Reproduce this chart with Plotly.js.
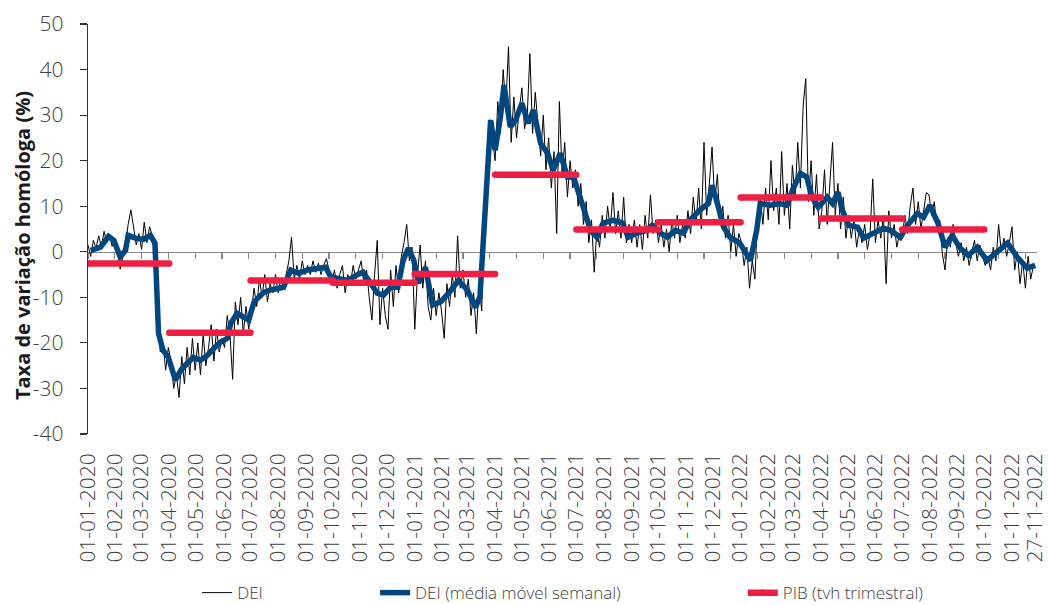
<!DOCTYPE html>
<html><head><meta charset="utf-8">
<script src="https://cdn.plot.ly/plotly-3.0.1.min.js"></script>
<style>html,body{margin:0;padding:0;background:#fff;} #chart{width:1048px;height:605px;}</style>
</head><body><div id="chart"></div>
<script>
// ---- tick labels ----
const tickLabels = ['01-01-2020','01-02-2020','01-03-2020','01-04-2020','01-05-2020','01-06-2020','01-07-2020','01-08-2020','01-09-2020','01-10-2020','01-11-2020','01-12-2020',
'01-01-2021','01-02-2021','01-03-2021','01-04-2021','01-05-2021','01-06-2021','01-07-2021','01-08-2021','01-09-2021','01-10-2021','01-11-2021','01-12-2021',
'01-01-2022','01-02-2022','01-03-2022','01-04-2022','01-05-2022','01-06-2022','01-07-2022','01-08-2022','01-09-2022','01-10-2022','01-11-2022','27-11-2022'];
const yTickValues = [50, 40, 30, 20, 10, 0, -10, -20, -30, -40];
const yTickLabels = ['50', '40', '30', '20', '10', '0', '-10', '-20', '-30', '-40'];
const yTitle = 'Taxa de variação homóloga (%)';

const seriesNames = ['DEI','DEI (média móvel semanal)','PIB (tvh trimestral)'];

// ---- DEI (daily indicator, read every 3 days) ----
const deiStart = '2020-01-01';
const deiStepDays = 3;
const deiValues = [
1.5,-1.0,2.5,0.8,3.5,1.0,4.5,2.0,3.8,1.2,2.5,
0.5,-3.8,-1.0,1.5,6.0,9.2,5.5,1.5,4.0,
0.5,6.5,2.0,5.5,3.5,-2.0,-14,-22,-20,-26,-21,
-24,-30,-27,-32,-23,-29,-21,-27,-19,-26,
-20,-27,-18,-25,-21,-16,-24,-17,-22,-19,
-21,-14,-18,-28,-11,-16,-10,-18,-12,-17,
-13,-8,-12,-6,-10,-5,-11,-7,-9,-5,
-9,-6,-8,-5,-2,3.2,-6,-3,-6,-2,-5,
-3,-5,-2,-4.5,-2.5,-5,-3,-1.5,-4,-7,
-4,-8,-5,-3,-9,-5,-7,-3,-6,-4,
-2,-7,-4,-10,-15,-5,2.5,-16,-8,-14,
-17,-4,-12,-3,-9,-1,2,6,-2,1,
-17,-5,1.5,-8,-2,-12,-15,-8,-14,-9,
-13,-19,-7,-12,-5,-10,3.5,-8,-4,-10,
-6,-14,-9,-18,-7,-13,10,22,29,25,
20,33,26,40,32,45,24,34,25,31,
36,27,30,43.5,26,35,28,21,30,18,
25,14,22,4,33,17,24,12,20,14,
18,10,15,6,11,2,7,-4.5,5,1,8,
3,10,5,13,4,9,3,12,2,6,
2,7,1,6,0.5,8,3,12.5,4,7,
2,6,1,5,0,7,3,8,2,6,
3,9,4,12,6,14,5,24,8,15,
23,11,17,6,10,3,8,0,6,-1,4,
2,-3,1,-8,-2,-6,8,12,6,14,
7,20,9,14,6,22,8,15,5,19,
12,24,14,32,38,11,20,8,17,5,
9,18,6,14,24,8,15,5,12,3,
8,3,7,1,5,2,6,0.5,4,16,
2,7,3,8,-7,9,3,6,1,4,
3,8,4,10,14,6,11,5,9,13,
12.5,8,11,5,7,-0.5,-4,3,1,6,2,
-1,2,-2,1,-3,0,2.5,-2,1.5,-1,
-3,-1,-4,1,-2,6,0,3,-1,2,
5.5,-4,0,-7,-2,-8,-1,-6,-3
];

// ---- DEI weekly moving average ----
const maDates = ['2020-01-04','2020-01-15','2020-01-24','2020-01-30','2020-02-06','2020-02-12','2020-02-15','2020-02-23','2020-03-03','2020-03-11','2020-03-16','2020-03-18','2020-03-20','2020-03-25','2020-03-31','2020-04-08','2020-04-14','2020-04-21','2020-04-28','2020-05-06','2020-05-14','2020-05-21','2020-05-28','2020-06-05','2020-06-09','2020-06-16','2020-06-23','2020-06-29','2020-07-05','2020-07-16','2020-07-23','2020-07-31','2020-08-07','2020-08-15','2020-08-24','2020-09-03','2020-09-12','2020-09-23','2020-09-29','2020-10-07','2020-10-18','2020-10-27','2020-11-04','2020-11-12','2020-11-20','2020-11-27','2020-12-05','2020-12-13','2020-12-19','2020-12-25','2020-12-31',
'2021-01-05','2021-01-13','2021-01-21','2021-01-30','2021-02-08','2021-02-19','2021-03-01','2021-03-10','2021-03-15','2021-03-19','2021-03-23','2021-03-27','2021-04-01','2021-04-07','2021-04-11','2021-04-18','2021-04-24','2021-05-01','2021-05-08','2021-05-14','2021-05-22','2021-05-30','2021-06-05','2021-06-13','2021-06-21','2021-06-28','2021-07-02','2021-07-09','2021-07-17','2021-07-24','2021-07-31','2021-08-11','2021-08-22','2021-08-28','2021-09-07','2021-09-18','2021-09-24','2021-10-03','2021-10-11','2021-10-20','2021-10-29','2021-11-05','2021-11-16','2021-11-26','2021-11-30','2021-12-06','2021-12-13','2021-12-20','2021-12-31',
'2022-01-12','2022-01-19','2022-01-23','2022-02-03','2022-02-14','2022-02-22','2022-02-28','2022-03-09','2022-03-16','2022-03-22','2022-03-29','2022-04-08','2022-04-14','2022-04-20','2022-04-25','2022-05-02','2022-05-12','2022-05-19','2022-05-30','2022-06-10','2022-06-18','2022-06-29','2022-07-07','2022-07-18','2022-07-25','2022-08-01','2022-08-10','2022-08-18','2022-08-26','2022-09-04','2022-09-13','2022-09-23','2022-10-04','2022-10-13','2022-10-27','2022-11-07','2022-11-18','2022-11-27'];
const maValues = [0.3,1.0,3.4,2.5,-1.1,0.3,3.6,3.0,2.7,3.6,1.9,-6.9,-17.9,-21.6,-23.2,-28.2,-26,-24.5,-23.2,-23.8,-22.7,-21.2,-19.9,-19,-15.7,-13.5,-14.4,-15,-11,-8.9,-8.4,-8,-7.8,-4,-4.7,-4,-3.6,-3.4,-5.5,-5.8,-6.3,-5.2,-4.5,-6.7,-9.1,-9.5,-7.8,-7.8,-1.9,0.8,-1.9,
-6.9,-3.4,-11.7,-11,-9.1,-6.3,-8.4,-12.2,-9.9,4.7,17.9,28.9,22.3,29.6,36.6,27.4,28.9,32.6,28.2,31.1,23.8,21.6,17.9,21.6,16.4,16.4,13.9,9.1,4.7,3.2,6.3,6.9,6.3,3.2,4.1,4.7,5.8,4.1,3.2,4.7,4.1,6.9,9.1,10.6,14.6,10.6,5.4,3.2,1.9,
-1.9,4.7,10.6,10.2,10.6,10.2,13.5,17.2,16.4,12,9.8,12,10.6,13.1,9.1,5.8,5.4,3.0,4.1,5.2,4.7,3.2,5.8,8.4,7.6,10.2,6.3,1.0,3.6,0.8,-0.8,1.0,-1.9,-0.3,1.9,-1.2,-3.6,-3.0];

// ---- GDP quarterly y/y ----
const pibStart = ['2020-01-01','2020-04-01','2020-07-01','2020-10-01','2021-01-01','2021-04-01','2021-07-01','2021-10-01','2022-01-01','2022-04-01','2022-07-01'];
const pibEnd   = ['2020-04-01','2020-07-01','2020-10-01','2021-01-01','2021-04-01','2021-07-01','2021-10-01','2022-01-01','2022-04-01','2022-07-01','2022-10-01'];
const pibValues = [-2.6,-17.8,-6.3,-6.8,-4.9,16.9,4.9,6.5,11.9,7.3,4.9];

// ---- build ----
const DAY = 86400000;
const t0 = Date.parse(deiStart + 'T00:00:00Z');
const deiDates = deiValues.map((_, i) => new Date(t0 + i * deiStepDays * DAY).toISOString().slice(0, 10));
const pibX = [], pibY = [];
pibValues.forEach((v, i) => { pibX.push(pibStart[i], pibEnd[i], null); pibY.push(v, v, null); });
const tickVals = tickLabels.map(s => { const p = s.split('-'); return p[2] + '-' + p[1] + '-' + p[0]; });
const xRange = ['2020-01-01', '2022-11-29'];

const FONT = '"Open Sans", sans-serif';
const BLUE = '#00467f', RED = '#ee1f43';

const traces = [
  {x: xRange, y: [null, null], xaxis: 'x2', yaxis: 'y', mode: 'lines', showlegend: false, hoverinfo: 'skip'},
  {x: deiDates, y: deiValues, name: seriesNames[0], mode: 'lines', line: {color: '#000', width: 1}, legend: 'legend'},
  {x: maDates, y: maValues, name: seriesNames[1], mode: 'lines', line: {color: BLUE, width: 5.5}, legend: 'legend2'},
  {x: pibX, y: pibY, name: seriesNames[2], mode: 'lines+markers', connectgaps: false,
   line: {color: RED, width: 6.5}, marker: {color: RED, size: 6.5}, legend: 'legend3'}
];

const tickFont = {family: FONT, size: 21, color: '#404040', weight: 300};
const legFont = {family: FONT, size: 17, color: '#404040', weight: 300};
const legBase = {y: -0.388, yanchor: 'middle', xanchor: 'left', orientation: 'h', font: legFont, bgcolor: 'rgba(0,0,0,0)', borderwidth: 0};

const layout = {
  width: 1048, height: 605,
  margin: {l: 88, r: 11, t: 24, b: 171, pad: 0, autoexpand: false},
  paper_bgcolor: '#fff', plot_bgcolor: '#fff',
  showlegend: true,
  xaxis: {type: 'date', range: xRange, tickmode: 'array', tickvals: tickVals, ticktext: tickLabels,
          tickangle: -90, ticks: '', showline: false, showgrid: false, zeroline: false,
          tickfont: tickFont, ticklabelstandoff: 14, ticklabeloverflow: 'allow', automargin: false, fixedrange: true},
  xaxis2: {type: 'date', overlaying: 'x', anchor: 'free', position: 4 / 9, range: xRange,
           tick0: '2020-01-01', dtick: 30 * DAY, ticks: 'outside', ticklen: 6, tickwidth: 1.2,
           tickcolor: '#868686', showline: true, linecolor: '#868686', linewidth: 1.3,
           showticklabels: false, showgrid: false, zeroline: false, layer: 'below traces', fixedrange: true},
  yaxis: {range: [-40, 50], tickmode: 'array', tickvals: yTickValues, ticktext: yTickLabels,
          ticks: 'outside', ticklen: 7, tickwidth: 1.2, tickcolor: '#333',
          showline: true, linecolor: '#333', linewidth: 1.3, showgrid: false, zeroline: false,
          tickfont: tickFont, ticklabelstandoff: 12, automargin: false, fixedrange: true},
  annotations: [{text: yTitle, xref: 'paper', yref: 'paper', x: -0.0695, y: 0.4585,
                 xanchor: 'center', yanchor: 'middle', textangle: -90, showarrow: false,
                 font: {family: FONT, size: 20, color: '#1a1a1a', weight: 700}}],
  legend: Object.assign({}, legBase, {x: 0.1150}),
  legend2: Object.assign({}, legBase, {x: 0.3025}),
  legend3: Object.assign({}, legBase, {x: 0.6900})
};

Plotly.newPlot('chart', traces, layout, {displayModeBar: false, staticPlot: true});
</script>
</body></html>
